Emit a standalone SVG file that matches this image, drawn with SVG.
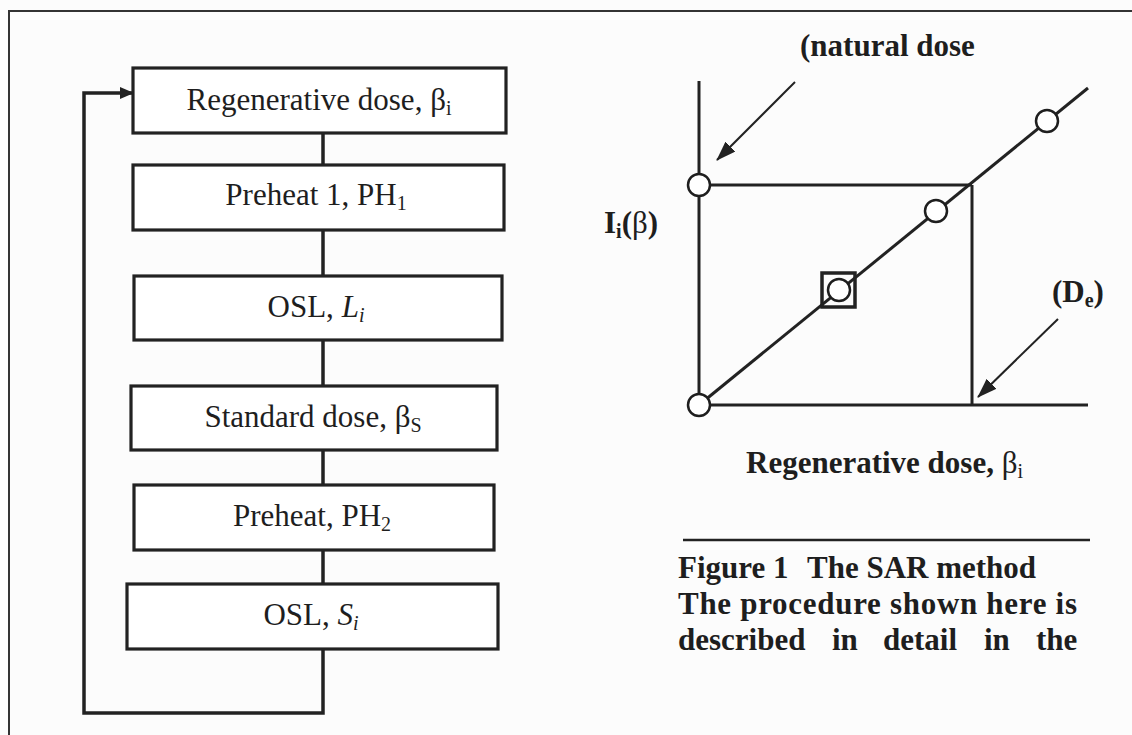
<svg xmlns="http://www.w3.org/2000/svg" width="1132" height="735" viewBox="0 0 1132 735">
  <style>
    .box { fill: #ffffff; stroke: #222; stroke-width: 3.2; }
    .t { font-family: "Liberation Serif", "Times New Roman", serif; font-size: 31px; fill: #1e1e1e; }
    .b { font-weight: bold; }
    .n { font-weight: normal; }
    .line { fill: none; stroke: #222; stroke-width: 3.5; }
    .axis { fill: none; stroke: #222; stroke-width: 3; }
    .thin { fill: none; stroke: #222; stroke-width: 2; }
    .pt { fill: #ffffff; stroke: #1e1e1e; stroke-width: 2.5; }
  </style>
  <defs>
    <marker id="loopArrow" markerUnits="userSpaceOnUse" markerWidth="14" markerHeight="14" refX="13" refY="7" orient="auto">
      <path d="M0,1 L14,7 L0,13 z" fill="#222"/>
    </marker>
    <marker id="ptr" markerUnits="userSpaceOnUse" markerWidth="20" markerHeight="14" refX="19" refY="7" orient="auto">
      <path d="M0,0 L20,7 L0,14 z" fill="#222"/>
    </marker>
  </defs>

  <rect x="0" y="0" width="1132" height="735" fill="#fcfcfc"/>
  <!-- page frame -->
  <path d="M9,735 V11 H1132" fill="none" stroke="#333" stroke-width="2"/>

  <!-- connectors -->
  <g id="connectors">
    <line class="line" x1="323" y1="133" x2="323" y2="165"/>
    <line class="line" x1="323" y1="230" x2="323" y2="276"/>
    <line class="line" x1="323" y1="340" x2="323" y2="386"/>
    <line class="line" x1="323" y1="450" x2="323" y2="485"/>
    <line class="line" x1="323" y1="550" x2="323" y2="584"/>
    <path class="line" d="M323,649 V713 H84 V93 H133" marker-end="url(#loopArrow)"/>
  </g>

  <!-- flow boxes -->
  <g id="node-regen">
    <rect class="box" x="133" y="68" width="373" height="65"/>
    <text class="t" x="319" y="110" text-anchor="middle">Regenerative dose, β<tspan font-size="20" dy="5">i</tspan></text>
  </g>
  <g id="node-preheat1">
    <rect class="box" x="133" y="165" width="371" height="65"/>
    <text class="t" x="316" y="205" text-anchor="middle">Preheat 1, PH<tspan font-size="20" dy="5">1</tspan></text>
  </g>
  <g id="node-osl-l">
    <rect class="box" x="134" y="276" width="368" height="64"/>
    <text class="t" x="316" y="317" text-anchor="middle">OSL, <tspan font-style="italic">L</tspan><tspan font-style="italic" font-size="20" dy="5">i</tspan></text>
  </g>
  <g id="node-standard">
    <rect class="box" x="131" y="386" width="366" height="64"/>
    <text class="t" x="313" y="427" text-anchor="middle">Standard dose, β<tspan font-size="20" dy="5">S</tspan></text>
  </g>
  <g id="node-preheat2">
    <rect class="box" x="134" y="485" width="360" height="65"/>
    <text class="t" x="312" y="526" text-anchor="middle">Preheat, PH<tspan font-size="20" dy="5">2</tspan></text>
  </g>
  <g id="node-osl-s">
    <rect class="box" x="127" y="584" width="371" height="65"/>
    <text class="t" x="311" y="625" text-anchor="middle">OSL, <tspan font-style="italic">S</tspan><tspan font-style="italic" font-size="20" dy="5">i</tspan></text>
  </g>

  <!-- growth curve graph -->
  <g id="graph">
    <line class="axis" x1="699" y1="81" x2="699" y2="405"/>
    <line class="axis" x1="699" y1="405" x2="1088" y2="405"/>
    <line class="axis" x1="699" y1="185" x2="972" y2="185"/>
    <line class="axis" x1="972" y1="185" x2="972" y2="405"/>
    <line class="axis" x1="699" y1="405" x2="1088" y2="88"/>
    <rect x="822" y="273" width="33" height="34" fill="none" stroke="#222" stroke-width="3.5"/>
    <circle class="pt" cx="699" cy="185" r="11"/>
    <circle class="pt" cx="699" cy="405" r="11"/>
    <circle class="pt" cx="839" cy="290" r="11"/>
    <circle class="pt" cx="936" cy="211" r="11"/>
    <circle class="pt" cx="1047" cy="121" r="11"/>
    <line class="thin" x1="795" y1="82" x2="717" y2="160" marker-end="url(#ptr)"/>
    <line class="thin" x1="1058" y1="319" x2="978" y2="397" marker-end="url(#ptr)"/>
  </g>

  <g id="label-natural">
    <text class="t b" x="800" y="56">(natural dose</text>
  </g>
  <g id="label-y">
    <text class="t b" x="604" y="233">I<tspan font-size="20" dy="5">i</tspan><tspan dy="-5">(</tspan><tspan class="n">β</tspan>)</text>
  </g>
  <g id="label-de">
    <text class="t b" x="1052" y="302">(D<tspan font-size="20" dy="5">e</tspan><tspan dy="-5">)</tspan></text>
  </g>
  <g id="label-x">
    <text class="t b" x="746" y="473">Regenerative dose, <tspan class="n">β</tspan><tspan class="n" font-size="20" dy="5">i</tspan></text>
  </g>

  <!-- caption -->
  <g id="caption">
    <line x1="683" y1="540" x2="1090" y2="540" stroke="#222" stroke-width="2.5"/>
    <text class="t b" x="678" y="578" font-size="31.5">Figure 1<tspan x="807">The SAR method</tspan></text>
    <text class="t b" x="678" y="614" font-size="31.5" textLength="399" lengthAdjust="spacing">The procedure shown here is</text>
    <text class="t b" y="650" font-size="31.5"><tspan x="678">described</tspan><tspan x="832">in</tspan><tspan x="883">detail</tspan><tspan x="984">in</tspan><tspan x="1036">the</tspan></text>
  </g>
</svg>
